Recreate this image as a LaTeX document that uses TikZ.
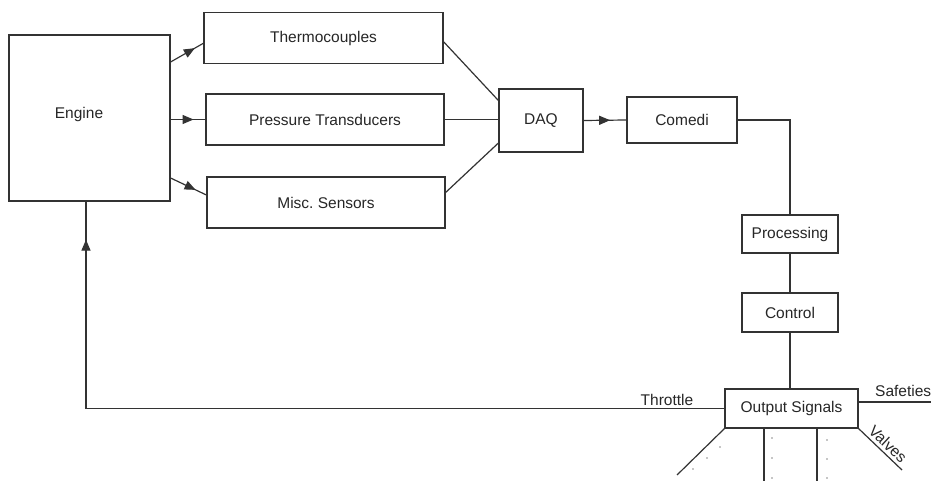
\documentclass[tikz,border=0pt]{standalone}
\usepackage{fontspec}
\setmainfont{Liberation Sans}
\usetikzlibrary{arrows.meta,decorations.markings}

\tikzset{
  blk/.style={draw=black!80, line width=1.2pt, rectangle, inner sep=0pt,
              text=black!85, font=\fontsize{15.5}{18}\selectfont},
  lbl/.style={inner sep=0pt, text=black!85, font=\fontsize{15.5}{18}\selectfont},
  wire/.style={draw=black!80, line width=1.2pt},
  midtip/.style={postaction={decorate}, decoration={markings,
     mark=at position #1 with {\arrow{Triangle[length=11pt,width=9pt]}}}},
  dotmark/.style={fill=black!45}
}

\begin{document}
\begin{tikzpicture}[x=1pt,y=-1pt]
\useasboundingbox (0,0) rectangle (931,481);

% blocks
\node[blk, minimum width=161pt, minimum height=166pt] (Engine) at (89.5,118) {};
\node[lbl] (EngTxt) at (79,114) {Engine};
\node[blk, minimum width=239pt, minimum height=51pt] (Thermo) at (323.5,38.25) {Thermocouples};
\node[blk, minimum width=238pt, minimum height=51pt] (Press) at (325,119.5) {Pressure Transducers};
\node[blk, minimum width=238pt, minimum height=51pt] (Misc) at (326,202.5) {Misc.\ Sensors};
\node[blk, minimum width=84pt, minimum height=63pt] (DAQ) at (541,120.5) {DAQ};
\node[blk, minimum width=110pt, minimum height=46pt] (Comedi) at (682,120) {Comedi};
\node[blk, minimum width=96pt, minimum height=38pt] (Proc) at (790,234) {Processing};
\node[blk, minimum width=96pt, minimum height=39pt] (Ctrl) at (790,312.5) {Control};
\node[blk, minimum width=133pt, minimum height=39pt] (Out) at (791.5,408.5) {Output Signals};

% engine to sensors
\draw[wire, midtip=0.74] ([yshift=56pt]Engine.east) -- ([yshift=-5pt]Thermo.west);
\draw[wire, midtip=0.66] (Engine.east |- Press.west) -- (Press.west);
\draw[wire, midtip=0.7] ([yshift=-60pt]Engine.east) -- ([yshift=7.5pt]Misc.west);

% sensors to DAQ
\draw[wire] ([yshift=-3.5pt]Thermo.east) -- ([yshift=20pt]DAQ.west);
\draw[wire] (Press.east) -- (DAQ.west |- Press.east);
\draw[wire] ([yshift=10pt]Misc.east) -- ([yshift=-22.5pt]DAQ.west);

% DAQ chain
\draw[wire, midtip=0.62] (DAQ.east) -- (Comedi.west);
\draw[wire] (Comedi.east) -| (Proc.north);
\draw[wire] (Proc.south) -- (Ctrl.north);
\draw[wire] (Ctrl.south) -- (Ctrl.south |- Out.north);

% throttle feedback
\coordinate (tc) at (86,410);
\draw[wire, midtip=-38pt] (Out.west) -- (Out.west -| tc) -- (tc |- Engine.south);
\node[lbl] (ThrTxt) at (667,400) {Throttle};

% safeties
\coordinate (safeEnd) at (931,402);
\draw[wire] ([yshift=6.5pt]Out.east) -- (safeEnd);
\node[lbl, anchor=west] (SafeTxt) at (875,391) {Safeties};

% valves and the other outputs
\coordinate (valEnd) at (902,470);
\draw[wire] (Out.south east) -- (valEnd);
\node[lbl, rotate=-43] (ValTxt) at (888,444) {Valves};

\coordinate (outA) at (677,475);
\coordinate (outB) at (764,481);
\coordinate (outC) at (817,481);
\draw[wire] (Out.south west) -- (outA);
\draw[wire] (Out.south -| outB) -- (outB);
\draw[wire] (Out.south -| outC) -- (outC);

% continuation dots
\foreach \px/\py in {720/447, 707/458, 693/469,
                     772/438, 772/458, 772/478,
                     827/440, 827/459, 827/478}
  \fill[dotmark] (\px,\py) circle (0.9pt);
\end{tikzpicture}
\end{document}
